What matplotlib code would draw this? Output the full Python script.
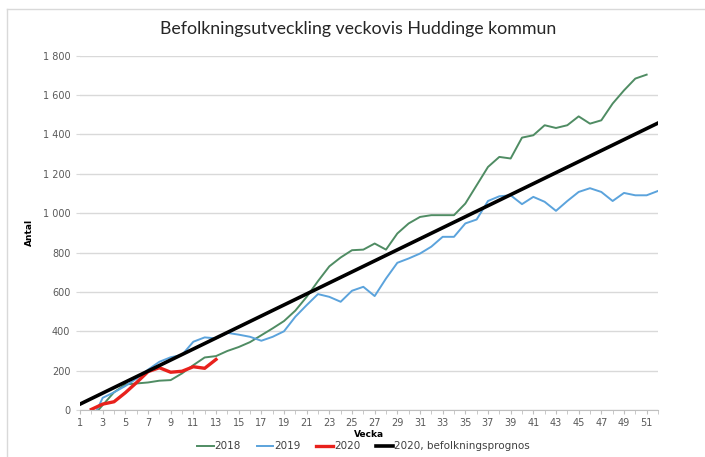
import numpy as np
import matplotlib.pyplot as plt
from matplotlib.lines import Line2D
from matplotlib.ticker import FuncFormatter

# Veckor
weeks_2018 = list(range(2, 52))
weeks_2019 = list(range(2, 53))
weeks_2020 = list(range(2, 14))
weeks_prognos = [1, 52]

# Antal per vecka
values_2018 = [-40, 25, 90, 130, 135, 140, 149, 152, 186, 228, 267, 274, 300, 320,
               345, 380, 415, 452, 505, 575, 655, 730, 775, 812, 815, 846, 815, 897,
               948, 981, 990, 990, 990, 1049, 1142, 1235, 1286, 1278, 1384, 1396,
               1447, 1433, 1447, 1492, 1455, 1472, 1557, 1624, 1684, 1704]
values_2019 = [-60, 62, 90, 122, 160, 205, 245, 268, 280, 347, 369, 364, 392, 383,
               372, 352, 372, 400, 474, 533, 589, 575, 550, 606, 626, 579, 668, 748,
               770, 795, 830, 880, 880, 948, 968, 1062, 1086, 1091, 1046, 1083, 1058,
               1012, 1062, 1108, 1127, 1108, 1062, 1103, 1091, 1091, 1113]
values_2020 = [3, 30, 42, 88, 140, 195, 215, 192, 197, 220, 212, 257]
values_prognos = [30, 1458]

fig = plt.figure(figsize=(7.05, 4.57), dpi=100)
ax = fig.add_axes([0.1135, 0.1028, 0.8198, 0.7752])

ax.plot(weeks_2018, values_2018, color="#4f8c63", lw=1.4, label="2018")
ax.plot(weeks_2019, values_2019, color="#5ba3dc", lw=1.4, label="2019")
ax.plot(weeks_2020, values_2020, color="#e8211c", lw=2.4, label="2020")
ax.plot(weeks_prognos, values_prognos, color="black", lw=2.6,
        label="2020, befolkningsprognos")

ax.set_xlim(1, 52)
ax.set_ylim(0, 1800)
ax.set_xticks(range(1, 53, 2))
ax.set_xticks(range(1, 53), minor=True)
ax.set_yticks(range(0, 1801, 200))
ax.yaxis.set_major_formatter(FuncFormatter(lambda v, p: f"{int(v):,}".replace(",", " ")))

ax.grid(axis="y", color="#d9d9d9", lw=1)
ax.set_axisbelow(True)
for s in ["top", "right", "left"]:
    ax.spines[s].set_visible(False)
ax.spines["bottom"].set_color("#bfbfbf")
ax.tick_params(axis="x", which="both", length=3, color="#bfbfbf",
               labelsize=7, labelcolor="#595959", pad=3)
ax.tick_params(axis="y", length=3, color="#d9d9d9", labelsize=7,
               labelcolor="#595959", pad=4)

ax.set_xlabel("Vecka", fontsize=6.5, fontweight="bold", labelpad=1)
ax.set_ylabel("Antal", fontsize=6.5, fontweight="bold", labelpad=6)

fig.suptitle("Befolkningsutveckling veckovis Huddinge kommun",
             fontsize=12.8, color="#262626", x=0.508, y=0.955, family="Lato")

ax.legend(loc="upper center", bbox_to_anchor=(0.49, -0.068), ncol=4,
          frameon=False, fontsize=7.5, handlelength=1.6, handletextpad=0.1,
          columnspacing=1.5, labelcolor="#404040", borderpad=0.2)

# ram runt diagrammet
fig.add_artist(Line2D([7 / 705, 7 / 705], [0, 1 - 9 / 457], color="#d9d9d9", lw=1))
fig.add_artist(Line2D([7 / 705, 1], [1 - 9 / 457, 1 - 9 / 457], color="#d9d9d9", lw=1))

fig.savefig("out.png", dpi=100)
